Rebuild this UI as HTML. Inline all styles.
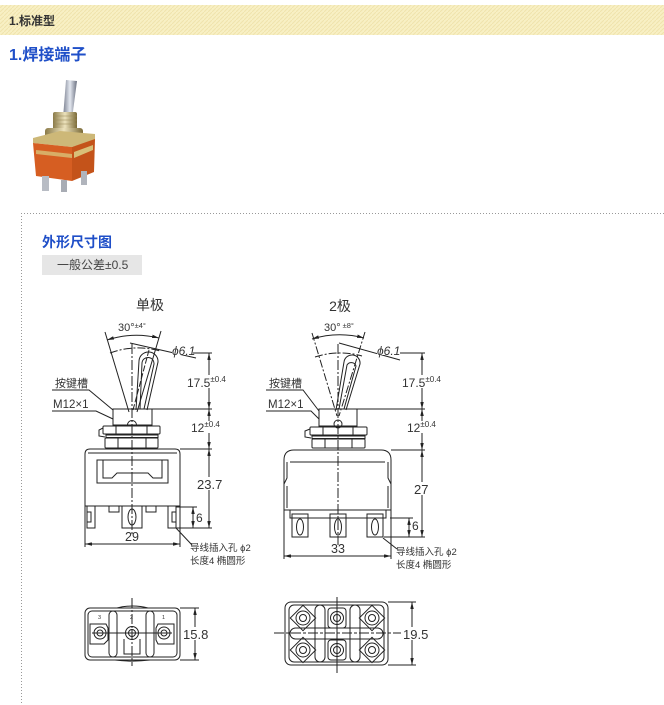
<!DOCTYPE html>
<html><head><meta charset="utf-8">
<style>
html,body{margin:0;padding:0;background:#fff;width:664px;height:705px;overflow:hidden;}
svg{position:absolute;left:0;top:0;}
text{font-family:"Liberation Sans","Noto Sans CJK SC",sans-serif;}
</style></head>
<body>
<svg width="664" height="705" viewBox="0 0 664 705" xmlns="http://www.w3.org/2000/svg">
<defs>
<pattern id="hatch" patternUnits="userSpaceOnUse" width="4" height="4">
<rect width="4" height="4" fill="#f8f0c4"/>
<path d="M0,4 L4,0" stroke="#efe3ac" stroke-width="1"/>
</pattern>
<marker id="ar" viewBox="0 0 8 4" refX="8" refY="2" markerWidth="7" markerHeight="3.5" orient="auto-start-reverse" markerUnits="userSpaceOnUse"><path d="M0,0 L8,2 L0,4z" fill="#222"/></marker>
<linearGradient id="lev" x1="0" x2="1"><stop offset="0" stop-color="#7a8090"/><stop offset="0.5" stop-color="#e4e8f0"/><stop offset="1" stop-color="#6a7080"/></linearGradient>
<linearGradient id="gold" x1="0" x2="1"><stop offset="0" stop-color="#8a7a48"/><stop offset="0.5" stop-color="#ece2bc"/><stop offset="1" stop-color="#7a6a38"/></linearGradient>
</defs>

<!-- header -->
<rect x="0" y="5" width="664" height="30" fill="url(#hatch)"/>
<text x="9" y="25" font-size="12" font-weight="bold" fill="#333">1.标准型</text>
<text x="9" y="60" font-size="16" font-weight="bold" fill="#1f4fc8">1.焊接端子</text>

<!-- photo -->
<g>
<polygon points="66,80 77,81 72,119 63,118" fill="url(#lev)"/>
<rect x="53" y="112" width="24" height="18" rx="2" fill="url(#gold)"/>
<line x1="53" y1="116" x2="77" y2="116" stroke="#9a8a58" stroke-width="0.6"/>
<line x1="53" y1="120" x2="77" y2="120" stroke="#9a8a58" stroke-width="0.6"/>
<line x1="53" y1="124" x2="77" y2="124" stroke="#9a8a58" stroke-width="0.6"/>
<rect x="45" y="128" width="38" height="12" rx="3" fill="url(#gold)"/>
<polygon points="33,138 60,131 95,134 95,140 72,147 33,143" fill="#cdb878"/>
<polygon points="33,143 72,147 72,181 36,176" fill="#d65e22"/>
<polygon points="72,147 95,139 94,172 72,181" fill="#c4531a"/>
<polygon points="74,152 93,145 93,150 74,158" fill="#d8c078"/>
<polygon points="36,150 72,154 72,158 36,154" fill="#d8c078" opacity="0.8"/>
<rect x="42" y="176" width="7" height="15" fill="#b8bcc4"/>
<rect x="61" y="180" width="6" height="12" fill="#a8acb4"/>
<rect x="81" y="171" width="6" height="14" fill="#b0b4bc"/>
</g>

<!-- dotted box -->
<line x1="21" y1="213.5" x2="664" y2="213.5" stroke="#999" stroke-width="1" stroke-dasharray="1 2"/>
<line x1="21.5" y1="213" x2="21.5" y2="705" stroke="#999" stroke-width="1" stroke-dasharray="1 2"/>

<text x="42" y="247" font-size="14" font-weight="bold" fill="#1f4fc8">外形尺寸图</text>
<rect x="42" y="255" width="100" height="20" fill="#e6e6e6"/>
<text x="57" y="269" font-size="12" fill="#444">一般公差±0.5</text>

<!-- ============ LEFT SIDE VIEW ============ -->
<g stroke="#222" stroke-width="1" fill="none">
<line x1="105" y1="332" x2="129" y2="412"/>
<line x1="161" y1="331" x2="137" y2="412"/>
<path d="M107,340 A95,95 0 0 1 159,338" marker-start="url(#ar)" marker-end="url(#ar)"/>
<path d="M110,353 A80,80 0 0 1 160,351" stroke-dasharray="8 2 2 2"/>
<line x1="132" y1="344" x2="132" y2="534" stroke-dasharray="10 2 2 2"/>
<line x1="133" y1="410" x2="149" y2="350" stroke-dasharray="6 2"/>
<path d="M136,410 L139,361 A9.5,9.5 0 0 1 158,362 L147,410"/>
<path d="M140,409 L142,363 A6,6 0 0 1 154,364 L144,409"/>
<line x1="130" y1="343" x2="196" y2="358"/>
<line x1="193" y1="353" x2="212" y2="353"/>
<line x1="209" y1="353" x2="209" y2="409" marker-start="url(#ar)" marker-end="url(#ar)"/>
<line x1="152" y1="409" x2="212" y2="409"/>
<line x1="209" y1="409" x2="209" y2="449" marker-start="url(#ar)" marker-end="url(#ar)"/>
<line x1="180" y1="449" x2="212" y2="449"/>
<line x1="209" y1="449" x2="209" y2="528" marker-start="url(#ar)" marker-end="url(#ar)"/>
<line x1="176" y1="528" x2="212" y2="528"/>
<line x1="176" y1="507" x2="197" y2="507"/>
<line x1="193" y1="507" x2="193" y2="528" marker-start="url(#ar)" marker-end="url(#ar)"/>
<line x1="85" y1="506" x2="85" y2="547"/>
<line x1="180" y1="506" x2="180" y2="547"/>
<line x1="85" y1="544" x2="180" y2="544" marker-start="url(#ar)" marker-end="url(#ar)"/>
<rect x="113" y="409" width="39" height="16"/>
<path d="M127.5,425 A4.5,4.5 0 0 1 136.5,425"/>
<rect x="103" y="426" width="57" height="8" rx="1"/>
<line x1="116" y1="426" x2="116" y2="434"/><line x1="147" y1="426" x2="147" y2="434"/>
<path d="M103,428 L99,430 L99,436 L105,437"/>
<rect x="106" y="435" width="52" height="2.5"/>
<rect x="105" y="438" width="53" height="10" rx="1"/>
<line x1="118" y1="438" x2="118" y2="448"/><line x1="146" y1="438" x2="146" y2="448"/>
<path d="M85,506 L85,454 Q85,449 90,449 L175,449 Q180,449 180,454 L180,506 Z"/>
<line x1="88" y1="453" x2="177" y2="453"/>
<path d="M97,460 L97,483 L168,483 L168,460 Z"/>
<path d="M103,460 L103,478 L112,478 L117,473 L148,473 L153,478 L162,478 L162,460"/>
<path d="M87,506 L87,528 L95,528 L95,506"/>
<path d="M87,512 L91,512 L91,522 L87,522"/>
<path d="M168,506 L168,528 L176,528 L176,506"/>
<path d="M176,512 L172,512 L172,522 L176,522"/>
<path d="M109,506 L109,512 L119,512 L119,506"/>
<path d="M146,506 L146,512 L156,512 L156,506"/>
<path d="M122,506 L122,528 L142,528 L142,506"/>
<ellipse cx="132" cy="517" rx="4" ry="8"/>
<line x1="176" y1="528" x2="192" y2="545"/>
<path d="M52,390 L89,390 L113,410"/>
<path d="M52,411 L96,411 L113,419"/>
</g>
<g fill="#333">
<text x="150" y="310" font-size="14" text-anchor="middle">单极</text>
<text x="118" y="331" font-size="11">30°<tspan font-size="7.5" dy="-3">±4°</tspan></text>
<rect x="172" y="345" width="21" height="10" fill="#fff"/>
<text x="172" y="355" font-size="12" font-style="italic">ϕ6.1</text>
<rect x="186" y="375" width="40" height="13" fill="#fff"/>
<text x="187" y="387" font-size="12">17.5<tspan font-size="8" dy="-5">±0.4</tspan></text>
<rect x="190" y="421" width="34" height="12" fill="#fff"/>
<text x="191" y="432" font-size="12">12<tspan font-size="8" dy="-5">±0.4</tspan></text>
<rect x="196" y="477" width="26" height="13" fill="#fff"/>
<text x="197" y="489" font-size="13">23.7</text>
<text x="196" y="522" font-size="12">6</text>
<text x="132" y="541" font-size="12.5" text-anchor="middle">29</text>
<text x="55" y="387" font-size="11">按键槽</text>
<text x="53" y="408" font-size="11.5">M12×1</text>
<text x="190" y="551" font-size="9.5">导线插入孔 ϕ2</text>
<text x="190" y="564" font-size="9.5">长度4 椭圆形</text>
</g>

<!-- ============ RIGHT SIDE VIEW ============ -->
<g stroke="#222" stroke-width="1" fill="none">
<line x1="312" y1="333" x2="337" y2="416" stroke-dasharray="8 2 2 2"/>
<line x1="365" y1="332" x2="339" y2="416" stroke-dasharray="8 2 2 2"/>
<path d="M312,339 A95,95 0 0 1 364,338" marker-start="url(#ar)" marker-end="url(#ar)"/>
<path d="M315,357 A80,80 0 0 1 362,356" stroke-dasharray="8 2 2 2"/>
<line x1="338" y1="344" x2="338" y2="545" stroke-dasharray="10 2 2 2"/>
<path d="M336,410 L344,362 A8,8 0 0 1 360,364 L346,410"/>
<path d="M339,409 L347,365 A5,5 0 0 1 356,366 L344,409"/>
<line x1="339" y1="343" x2="400" y2="360"/>
<line x1="400" y1="353" x2="425" y2="353"/>
<line x1="422" y1="353" x2="422" y2="409" marker-start="url(#ar)" marker-end="url(#ar)"/>
<line x1="357" y1="409" x2="425" y2="409"/>
<line x1="422" y1="409" x2="422" y2="450" marker-start="url(#ar)" marker-end="url(#ar)"/>
<line x1="391" y1="450" x2="425" y2="450"/>
<line x1="422" y1="450" x2="422" y2="537" marker-start="url(#ar)" marker-end="url(#ar)"/>
<line x1="384" y1="537" x2="425" y2="537"/>
<line x1="390" y1="518" x2="413" y2="518"/>
<line x1="409" y1="518" x2="409" y2="537" marker-start="url(#ar)" marker-end="url(#ar)"/>
<line x1="284" y1="505" x2="284" y2="559"/>
<line x1="391" y1="505" x2="391" y2="559"/>
<line x1="284" y1="556" x2="391" y2="556" marker-start="url(#ar)" marker-end="url(#ar)"/>
<rect x="319" y="409" width="38" height="17"/>
<circle cx="338" cy="424" r="4"/>
<rect x="310" y="427" width="57" height="8" rx="1"/>
<line x1="323" y1="427" x2="323" y2="435"/><line x1="353" y1="427" x2="353" y2="435"/>
<path d="M310,429 L305,431 L305,437 L311,438"/>
<rect x="312" y="436" width="53" height="2.5"/>
<rect x="312" y="439" width="53" height="9" rx="1"/>
<line x1="325" y1="439" x2="325" y2="448"/><line x1="352" y1="439" x2="352" y2="448"/>
<path d="M284,510 L284,460 Q284,450 294,450 L381,450 Q391,450 391,460 L391,510"/>
<path d="M287,462 L287,478 L284,484 M287,486 L287,508"/>
<path d="M388,462 L388,478 L391,484 M388,486 L388,508"/>
<line x1="290" y1="462" x2="385" y2="462"/>
<line x1="284" y1="510" x2="391" y2="510"/>
<path d="M290,510 L290,518 L386,518 L386,510"/>
<path d="M292,514 L292,537 L308,537 L308,514 Z"/>
<path d="M330,514 L330,537 L346,537 L346,514 Z"/>
<path d="M367,514 L367,537 L383,537 L383,514 Z"/>
<ellipse cx="300" cy="527" rx="3.5" ry="8"/>
<ellipse cx="338" cy="527" rx="3.5" ry="8"/>
<ellipse cx="375" cy="527" rx="3.5" ry="8"/>
<line x1="383" y1="538" x2="397" y2="549"/>
<path d="M266,390 L303,390 L319,411"/>
<path d="M266,411 L311,411 L319,419"/>
</g>
<g fill="#333">
<text x="340" y="311" font-size="14" text-anchor="middle">2极</text>
<text x="324" y="331" font-size="11">30°<tspan font-size="7.5" dy="-3" dx="2">±8°</tspan></text>
<rect x="377" y="345" width="23" height="10" fill="#fff"/>
<text x="377" y="355" font-size="12" font-style="italic">ϕ6.1</text>
<rect x="401" y="375" width="44" height="13" fill="#fff"/>
<text x="402" y="387" font-size="12">17.5<tspan font-size="8" dy="-5">±0.4</tspan></text>
<rect x="405" y="421" width="40" height="12" fill="#fff"/>
<text x="407" y="432" font-size="12">12<tspan font-size="8" dy="-5">±0.4</tspan></text>
<rect x="413" y="482" width="17" height="13" fill="#fff"/>
<text x="414" y="494" font-size="13">27</text>
<text x="412" y="530" font-size="12">6</text>
<text x="338" y="553" font-size="12.5" text-anchor="middle">33</text>
<text x="269" y="387" font-size="11">按键槽</text>
<text x="268" y="408" font-size="11.5">M12×1</text>
<text x="396" y="555" font-size="9.5">导线插入孔 ϕ2</text>
<text x="396" y="568" font-size="9.5">长度4 椭圆形</text>
</g>

<!-- ============ LEFT BOTTOM VIEW ============ -->
<g stroke="#222" stroke-width="1" fill="none">
<rect x="85" y="608" width="95" height="52" rx="5"/>
<rect x="88" y="611" width="89" height="46" rx="4"/>
<path d="M117,608 A30,14 0 0 1 148,608"/>
<path d="M115,660 A40,10 0 0 0 150,660"/>
<rect x="109" y="611" width="8" height="46" rx="4"/>
<rect x="146" y="611" width="8" height="46" rx="4"/>
<path d="M90,624 L106,624 L108,628 L108,640 L104,644 L90,644 Z"/>
<circle cx="100" cy="633" r="6"/><circle cx="100" cy="633" r="3"/>
<circle cx="132" cy="633" r="6.5"/><circle cx="132" cy="633" r="3.5"/>
<path d="M124,639 L124,654 L140,654 L140,639"/>
<path d="M158,624 L174,624 L174,644 L158,644 L156,640 L156,628 Z"/>
<circle cx="164" cy="633" r="6"/><circle cx="164" cy="633" r="3"/>
<line x1="132" y1="598" x2="132" y2="666" stroke-dasharray="10 2 2 2"/>
<line x1="92" y1="633" x2="172" y2="633"/>
<line x1="180" y1="608" x2="199" y2="608"/>
<line x1="180" y1="660" x2="199" y2="660"/>
<line x1="195" y1="608" x2="195" y2="660" marker-start="url(#ar)" marker-end="url(#ar)"/>
</g>
<g fill="#333">
<rect x="183" y="627" width="25" height="13" fill="#fff"/>
<text x="183" y="639" font-size="13">15.8</text>
<text x="98" y="619" font-size="5.5">3</text>
<text x="130" y="619" font-size="5.5">2</text>
<text x="162" y="619" font-size="5.5">1</text>
</g>

<!-- ============ RIGHT BOTTOM VIEW ============ -->
<g stroke="#222" stroke-width="1" fill="none">
<rect x="285" y="602" width="103" height="63" rx="6"/>
<rect x="289" y="605" width="95" height="57" rx="5"/>
<rect x="315" y="605" width="10" height="57" rx="5"/>
<rect x="350" y="605" width="10" height="57" rx="5"/>
<rect x="290" y="628" width="93" height="11" rx="5.5"/>
<rect x="294" y="609" width="18" height="18" transform="rotate(45 303 618)"/>
<circle cx="303" cy="618" r="7"/><circle cx="303" cy="618" r="3.5"/>
<rect x="294" y="641" width="18" height="18" transform="rotate(45 303 650)"/>
<circle cx="303" cy="650" r="7"/><circle cx="303" cy="650" r="3.5"/>
<rect x="363" y="609" width="18" height="18" transform="rotate(45 372 618)"/>
<circle cx="372" cy="618" r="7"/><circle cx="372" cy="618" r="3.5"/>
<rect x="363" y="641" width="18" height="18" transform="rotate(45 372 650)"/>
<circle cx="372" cy="650" r="7"/><circle cx="372" cy="650" r="3.5"/>
<rect x="328" y="608" width="18" height="20" rx="3"/>
<circle cx="337" cy="618" r="6.5"/><circle cx="337" cy="618" r="3.5"/>
<rect x="328" y="640" width="18" height="20" rx="3"/>
<circle cx="337" cy="650" r="6.5"/><circle cx="337" cy="650" r="3.5"/>
<line x1="337" y1="597" x2="337" y2="673"/>
<line x1="274" y1="633" x2="401" y2="633" stroke-dasharray="10 2 3 2"/>
<line x1="388" y1="602" x2="416" y2="602"/>
<line x1="388" y1="665" x2="416" y2="665"/>
<line x1="412" y1="602" x2="412" y2="665" marker-start="url(#ar)" marker-end="url(#ar)"/>
</g>
<g fill="#333">
<rect x="403" y="627" width="27" height="13" fill="#fff"/>
<text x="403" y="639" font-size="13">19.5</text>
</g>
</svg>
</body></html>
